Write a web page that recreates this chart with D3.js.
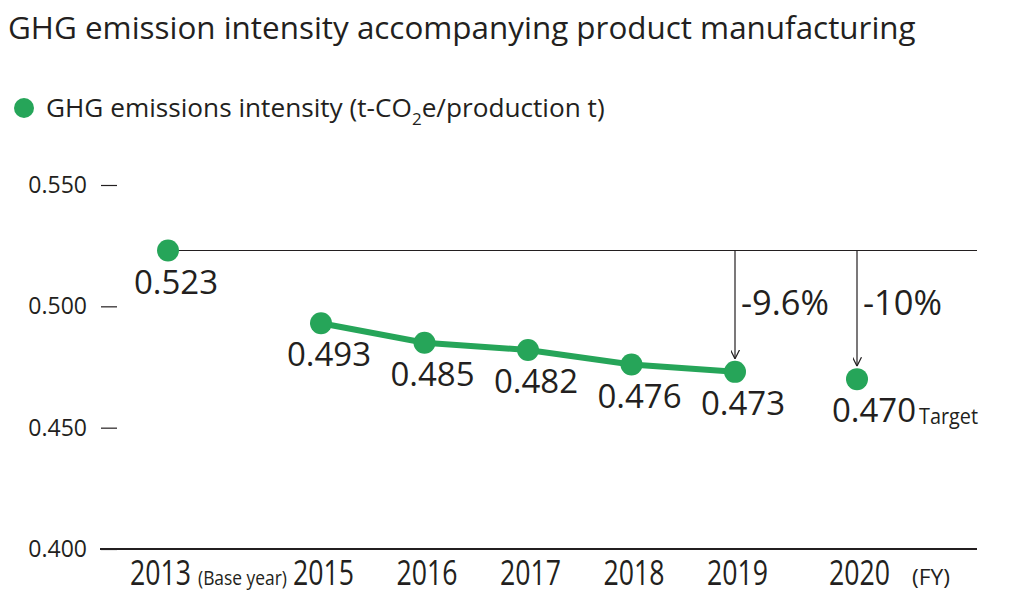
<!DOCTYPE html>
<html>
<head>
<meta charset="utf-8">
<script src="https://cdn.jsdelivr.net/npm/d3@7"></script>
<style>
  body { margin: 0; background: #fff; }
  text { font-family: "Open Sans", sans-serif; fill: #231f20; }
</style>
</head>
<body>
<svg id="chart" width="1009" height="613"></svg>
<script>
// data
var years = [2013, 2015, 2016, 2017, 2018, 2019, 2020];
var intensity = [0.523, 0.493, 0.485, 0.482, 0.476, 0.473, 0.470];
var lineYears = [2015, 2016, 2017, 2018, 2019];
var yTicks = [0.400, 0.450, 0.500, 0.550];
var reductions = [{ year: 2019, label: "-9.6%" }, { year: 2020, label: "-10%" }];
var baseValue = 0.523;

var green = "#26a559";

var svg = d3.select("#chart");

// scales (2013 base year and 2020 target sit on their own spacing)
var x = d3.scaleLinear()
  .domain([2013, 2015, 2019, 2020])
  .range([168, 321, 735, 857]);

var y = d3.scaleLinear()
  .domain([0.400, 0.550])
  .range([549, 185]);

// narrow text helper (no condensed font installed)
var narrow = function(sel, len) {
  sel.attr("textLength", len).attr("lengthAdjust", "spacingAndGlyphs");
};

// title
svg.append("text")
  .attr("x", 8)
  .attr("y", 39)
  .style("font-size", "31.4px")
  .text("GHG emission intensity accompanying product manufacturing");

// legend
svg.append("circle")
  .attr("cx", 24)
  .attr("cy", 108)
  .attr("r", 10)
  .style("fill", green);

var leg = svg.append("text")
  .attr("x", 46)
  .attr("y", 117)
  .style("font-size", "26.2px")
  .text("GHG emissions intensity (t-CO");
leg.append("tspan")
  .attr("dy", 8)
  .style("font-size", "17px")
  .text("2");
leg.append("tspan")
  .attr("dy", -8)
  .text("e/production t)");

// y axis
var yAxis = svg.append("g")
  .attr("transform", "translate(117,0)")
  .call(d3.axisLeft(y).tickValues(yTicks).tickFormat(d3.format(".3f")).tickSize(16).tickPadding(14));
yAxis.select(".domain").remove();
yAxis.selectAll("line").style("stroke", "#231f20").style("stroke-width", 1.2);
yAxis.selectAll("text").style("font-size", "23px").style("font-family", "Open Sans, sans-serif").style("fill", "#231f20");

// baseline
svg.append("line")
  .attr("x1", 100).attr("x2", 977)
  .attr("y1", y(0.400)).attr("y2", y(0.400))
  .style("stroke", "#231f20")
  .style("stroke-width", 2);

// x axis labels
var xAxis = svg.append("g")
  .attr("transform", "translate(0," + y(0.400) + ")")
  .call(d3.axisBottom(x).tickValues(years).tickFormat(d3.format("d")).tickSize(0).tickPadding(12));
xAxis.select(".domain").remove();
xAxis.selectAll("text")
  .style("font-size", "34px")
  .style("font-family", "Open Sans, sans-serif")
  .style("fill", "#231f20")
  .attr("dx", function(d) { return d === 2013 ? -8 : 2; })
  .call(narrow, 61);

svg.append("text")
  .attr("x", 198)
  .attr("y", 585)
  .style("font-size", "20px")
  .text("(Base year)")
  .call(narrow, 89);

svg.append("text")
  .attr("x", 912)
  .attr("y", 585)
  .style("font-size", "22px")
  .text("(FY)")
  .call(narrow, 38);

// base year reference line
svg.append("line")
  .attr("x1", x(2013)).attr("x2", 977)
  .attr("y1", y(baseValue)).attr("y2", y(baseValue))
  .style("stroke", "#231f20")
  .style("stroke-width", 1.2);

// reduction arrows
var defs = svg.append("defs");
defs.append("marker")
  .attr("id", "arrow")
  .attr("viewBox", "0 -5 10 10")
  .attr("refX", 10)
  .attr("markerWidth", 9)
  .attr("markerHeight", 9)
  .attr("markerUnits", "userSpaceOnUse")
  .attr("orient", "auto")
  .append("path")
  .attr("d", "M0,-5L10,0L0,5")
  .style("fill", "none")
  .style("stroke", "#231f20")
  .style("stroke-width", 1.3);

var valueOf = function(yr) { return intensity[years.indexOf(yr)]; };

svg.selectAll(".arrow")
  .data(reductions)
  .enter().append("line")
  .attr("x1", function(d) { return x(d.year); })
  .attr("x2", function(d) { return x(d.year); })
  .attr("y1", y(baseValue))
  .attr("y2", function(d) { return y(valueOf(d.year)) - 13; })
  .style("stroke", "#231f20")
  .style("stroke-width", 1.2)
  .attr("marker-end", "url(#arrow)");

svg.selectAll(".pct")
  .data(reductions)
  .enter().append("text")
  .attr("x", function(d) { return x(d.year) + 6; })
  .attr("y", 315)
  .style("font-size", "34px")
  .text(function(d) { return d.label; })
  .attr("textLength", function(d) { return d.year === 2019 ? 88 : 79; })
  .attr("lengthAdjust", "spacingAndGlyphs");

// line 2015-2019
var line = d3.line()
  .x(function(d) { return x(d); })
  .y(function(d) { return y(valueOf(d)); });

svg.append("path")
  .datum(lineYears)
  .attr("d", line)
  .style("fill", "none")
  .style("stroke", green)
  .style("stroke-width", 6);

// points
svg.selectAll(".pt")
  .data(years)
  .enter().append("circle")
  .attr("cx", function(d) { return x(d); })
  .attr("cy", function(d, i) { return y(intensity[i]); })
  .attr("r", 11)
  .style("fill", green);

// value labels
svg.selectAll(".val")
  .data(years)
  .enter().append("text")
  .attr("x", function(d) { return x(d) + (d === 2020 ? 17 : 8); })
  .attr("y", function(d, i) { return y(intensity[i]) + 43; })
  .attr("text-anchor", "middle")
  .style("font-size", "33px")
  .text(function(d, i) { return d3.format(".3f")(intensity[i]); });

svg.append("text")
  .attr("x", 919)
  .attr("y", 424)
  .style("font-size", "22px")
  .text("Target")
  .call(narrow, 59);
</script>
</body>
</html>
